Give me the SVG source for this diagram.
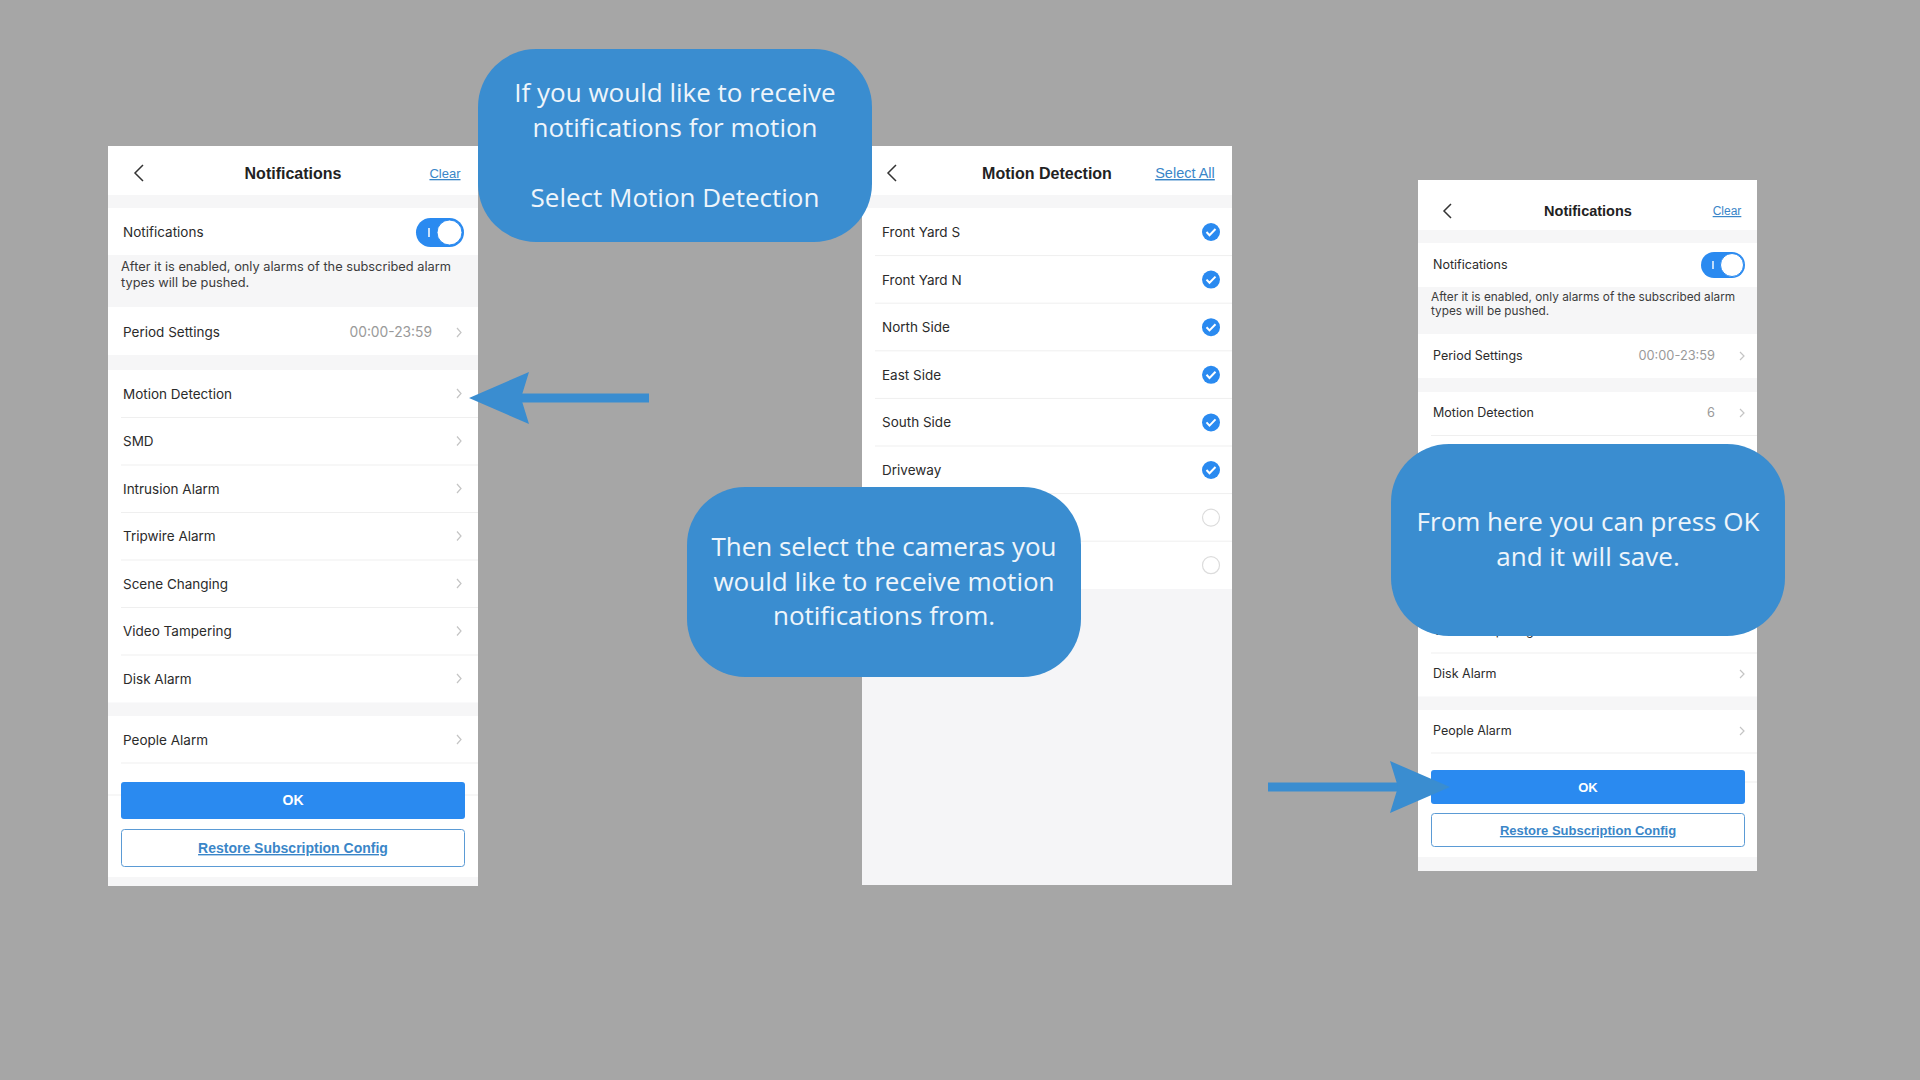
<svg xmlns="http://www.w3.org/2000/svg" width="1920" height="1080" viewBox="0 0 1920 1080">
<style>
.panel{fill:#ffffff}
.band{fill:#f6f6f7}
.sep{stroke:#efefef;stroke-width:1}
.lbl{font-family:Inter,"Liberation Sans",Arial,sans-serif;font-size:13.5px;fill:#2b2b2b}
.lbl-s{font-family:Inter,"Liberation Sans",Arial,sans-serif;font-size:12.5px;fill:#2b2b2b}
.desc{font-family:Inter,"Liberation Sans",Arial,sans-serif;font-size:12.8px;fill:#3c3c3c}
.desc-s{font-family:Inter,"Liberation Sans",Arial,sans-serif;font-size:11.8px;fill:#3c3c3c}
.val{font-family:Inter,"Liberation Sans",Arial,sans-serif;font-size:13.8px;fill:#9a9a9a;text-anchor:end}
.val-s{font-family:Inter,"Liberation Sans",Arial,sans-serif;font-size:12.8px;fill:#9a9a9a;text-anchor:end}
.title{font-family:"Liberation Sans",Arial,sans-serif;font-weight:bold;font-size:16px;fill:#222222;text-anchor:middle}
.title-s{font-family:"Liberation Sans",Arial,sans-serif;font-weight:bold;font-size:14.5px;fill:#222222;text-anchor:middle}
.link{font-family:"Liberation Sans",Arial,sans-serif;font-size:13px;fill:#3a86c8;text-decoration:underline;text-anchor:middle}
.chev{fill:none;stroke:#c4c4c4;stroke-width:1.2}
.back{fill:none;stroke:#333333;stroke-width:1.5}
.btn{fill:#2a8af0}
.btn-t{font-family:"Liberation Sans",Arial,sans-serif;font-weight:bold;font-size:14px;fill:#ffffff;text-anchor:middle}
.rst{fill:#ffffff;stroke:#5b9bd5;stroke-width:1}
.rst-t{font-family:"Liberation Sans",Arial,sans-serif;font-weight:bold;font-size:14px;fill:#3a86c8;text-decoration:underline;text-anchor:middle}
.tog{fill:#2a8af0}
.knob{fill:#ffffff;stroke:#2a8af0;stroke-width:1}
.callout{fill:#3a8dd0}
.ct{font-family:"Open Sans","Noto Sans",sans-serif;font-size:26px;fill:#eef5fb;text-anchor:middle}
.shaft{stroke:#3a8dd0;stroke-width:9;fill:none}
</style>
<defs>
<marker id="head" viewBox="0 0 60 52" refX="8" refY="26" markerWidth="60" markerHeight="52" markerUnits="userSpaceOnUse" orient="auto">
<path d="M0,0 L60,26 L0,52 L8,26 Z" fill="#3a8dd0"/>
</marker>
<g id="chk"><circle r="9" fill="#2a8af0"/><path d="M-4.5,0 L-1.5,3.2 L4.5,-3" fill="none" stroke="#ffffff" stroke-width="2"/></g>
<circle id="unchk" r="8.5" fill="#ffffff" stroke="#dcdcdc" stroke-width="1.2"/>
</defs>
<rect width="1920" height="1080" fill="#a6a6a6"/>

<g id="panel-notifications-1">
<rect class="panel" x="108" y="146" width="370" height="740"/>
<polyline class="back" points="143,165 135,173 143,181"/>
<text class="title" x="293" y="179">Notifications</text>
<text class="link" x="445" y="178">Clear</text>
<rect class="band" x="108" y="195" width="370" height="13"/>
<text class="lbl" x="123" y="237">Notifications</text>
<rect class="tog" x="416" y="218" width="48" height="29" rx="14.5"/>
<line x1="429" y1="228" x2="429" y2="237" stroke="#ffffff" stroke-width="1.5"/>
<circle class="knob" cx="449.5" cy="232.5" r="12.5"/>
<rect class="band" x="108" y="255" width="370" height="52"/>
<text class="desc" x="121" y="271">After it is enabled, only alarms of the subscribed alarm</text>
<text class="desc" x="121" y="287">types will be pushed.</text>
<text class="lbl" x="123" y="337">Period Settings</text>
<text class="val" x="432" y="337">00:00-23:59</text>
<polyline class="chev" points="457,328 461,332.5 457,337"/>
<rect class="band" x="108" y="355" width="370" height="15"/>
<text class="lbl" x="123" y="398.5">Motion Detection</text>
<polyline class="chev" points="457,389 461,393.5 457,398"/>
<line class="sep" x1="121" y1="417.5" x2="478" y2="417.5"/>
<text class="lbl" x="123" y="446">SMD</text>
<polyline class="chev" points="457,436.5 461,441 457,445.5"/>
<line class="sep" x1="121" y1="465" x2="478" y2="465"/>
<text class="lbl" x="123" y="493.5">Intrusion Alarm</text>
<polyline class="chev" points="457,484 461,488.5 457,493"/>
<line class="sep" x1="121" y1="512.5" x2="478" y2="512.5"/>
<text class="lbl" x="123" y="541">Tripwire Alarm</text>
<polyline class="chev" points="457,531.5 461,536 457,540.5"/>
<line class="sep" x1="121" y1="560" x2="478" y2="560"/>
<text class="lbl" x="123" y="588.5">Scene Changing</text>
<polyline class="chev" points="457,579 461,583.5 457,588"/>
<line class="sep" x1="121" y1="607.5" x2="478" y2="607.5"/>
<text class="lbl" x="123" y="636">Video Tampering</text>
<polyline class="chev" points="457,626.5 461,631 457,635.5"/>
<line class="sep" x1="121" y1="655" x2="478" y2="655"/>
<text class="lbl" x="123" y="683.5">Disk Alarm</text>
<polyline class="chev" points="457,674 461,678.5 457,683"/>
<rect class="band" x="108" y="702.5" width="370" height="13.5"/>
<text class="lbl" x="123" y="744.5">People Alarm</text>
<polyline class="chev" points="457,735 461,739.5 457,744"/>
<line class="sep" x1="121" y1="763" x2="478" y2="763"/>
<line class="sep" x1="108" y1="795" x2="478" y2="795"/>
<rect class="btn" x="121" y="782" width="344" height="37" rx="3"/>
<text class="btn-t" x="293" y="805">OK</text>
<rect class="rst" x="121.5" y="829.5" width="343" height="37" rx="3"/>
<text class="rst-t" x="293" y="853">Restore Subscription Config</text>
<rect class="band" x="108" y="877" width="370" height="9"/>
</g>

<g id="panel-motion-detection">
<rect class="panel" x="862" y="146" width="370" height="739"/>
<polyline class="back" points="896,165 888,173 896,181"/>
<text class="title" x="1047" y="179">Motion Detection</text>
<text class="link" x="1185" y="178" style="font-size:14.5px">Select All</text>
<rect class="band" x="862" y="195" width="370" height="13"/>
<text class="lbl" x="882" y="237">Front Yard S</text>
<use href="#chk" x="1211" y="232"/>
<line class="sep" x1="875" y1="255.6" x2="1232" y2="255.6"/>
<text class="lbl" x="882" y="284.6">Front Yard N</text>
<use href="#chk" x="1211" y="279.6"/>
<line class="sep" x1="875" y1="303.2" x2="1232" y2="303.2"/>
<text class="lbl" x="882" y="332.2">North Side</text>
<use href="#chk" x="1211" y="327.2"/>
<line class="sep" x1="875" y1="350.8" x2="1232" y2="350.8"/>
<text class="lbl" x="882" y="379.8">East Side</text>
<use href="#chk" x="1211" y="374.8"/>
<line class="sep" x1="875" y1="398.4" x2="1232" y2="398.4"/>
<text class="lbl" x="882" y="427.4">South Side</text>
<use href="#chk" x="1211" y="422.4"/>
<line class="sep" x1="875" y1="446" x2="1232" y2="446"/>
<text class="lbl" x="882" y="475">Driveway</text>
<use href="#chk" x="1211" y="470"/>
<line class="sep" x1="875" y1="493.6" x2="1232" y2="493.6"/>
<use href="#unchk" x="1211" y="517.6"/>
<line class="sep" x1="875" y1="541.2" x2="1232" y2="541.2"/>
<use href="#unchk" x="1211" y="565.2"/>
<rect x="862" y="589" width="370" height="296" fill="#f5f5f7"/>
</g>

<g id="panel-notifications-2">
<rect class="panel" x="1418" y="180" width="339" height="691"/>
<polyline class="back" points="1451,204 1444,211 1451,218"/>
<text class="title-s" x="1588" y="216">Notifications</text>
<text class="link" x="1727" y="215" style="font-size:12px">Clear</text>
<rect class="band" x="1418" y="230" width="339" height="13"/>
<text class="lbl-s" x="1433" y="269">Notifications</text>
<rect class="tog" x="1701" y="252" width="44" height="26" rx="13"/>
<line x1="1713" y1="261" x2="1713" y2="269" stroke="#ffffff" stroke-width="1.4"/>
<circle class="knob" cx="1732" cy="265" r="11.5"/>
<rect class="band" x="1418" y="287" width="339" height="47"/>
<text class="desc-s" x="1431" y="301">After it is enabled, only alarms of the subscribed alarm</text>
<text class="desc-s" x="1431" y="315">types will be pushed.</text>
<text class="lbl-s" x="1433" y="360">Period Settings</text>
<text class="val-s" x="1715" y="360">00:00-23:59</text>
<polyline class="chev" points="1740,352 1744,356 1740,360"/>
<rect class="band" x="1418" y="378" width="339" height="14"/>
<text class="lbl-s" x="1433" y="417">Motion Detection</text>
<text class="val-s" x="1715" y="417">6</text>
<polyline class="chev" points="1740,409 1744,413 1740,417"/>
<line class="sep" x1="1431" y1="435.5" x2="1757" y2="435.5"/>
<text class="lbl-s" x="1433" y="634.5">Video Tampering</text>
<line class="sep" x1="1431" y1="653" x2="1757" y2="653"/>
<text class="lbl-s" x="1433" y="678">Disk Alarm</text>
<polyline class="chev" points="1740,670 1744,674 1740,678"/>
<rect class="band" x="1418" y="696.5" width="339" height="13.5"/>
<text class="lbl-s" x="1433" y="735">People Alarm</text>
<polyline class="chev" points="1740,727 1744,731 1740,735"/>
<line class="sep" x1="1431" y1="753" x2="1757" y2="753"/>
<line class="sep" x1="1418" y1="782" x2="1757" y2="782"/>
<rect class="btn" x="1431" y="770" width="314" height="34" rx="3"/>
<text class="btn-t" x="1588" y="792" style="font-size:13px">OK</text>
<rect class="rst" x="1431.5" y="813.5" width="313" height="33" rx="3"/>
<text class="rst-t" x="1588" y="835" style="font-size:13px">Restore Subscription Config</text>
<rect class="band" x="1418" y="857" width="339" height="14"/>
</g>

<g id="callout-select-motion">
<rect class="callout" x="478" y="49" width="394" height="193" rx="58"/>
<text class="ct" x="675" y="102">If you would like to receive</text>
<text class="ct" x="675" y="137">notifications for motion</text>
<text class="ct" x="675" y="207">Select Motion Detection</text>
</g>

<g id="callout-select-cameras">
<rect class="callout" x="687" y="487" width="394" height="190" rx="58"/>
<text class="ct" x="884" y="556">Then select the cameras you</text>
<text class="ct" x="884" y="591">would like to receive motion</text>
<text class="ct" x="884" y="625">notifications from.</text>
</g>

<g id="callout-press-ok">
<rect class="callout" x="1391" y="444" width="394" height="192" rx="58"/>
<text class="ct" x="1588" y="531">From here you can press OK</text>
<text class="ct" x="1588" y="566">and it will save.</text>
</g>

<g id="connectors">
<line class="shaft" x1="649" y1="398" x2="521" y2="398" marker-end="url(#head)"/>
<line class="shaft" x1="1268" y1="787" x2="1398" y2="787" marker-end="url(#head)"/>
</g>
</svg>
